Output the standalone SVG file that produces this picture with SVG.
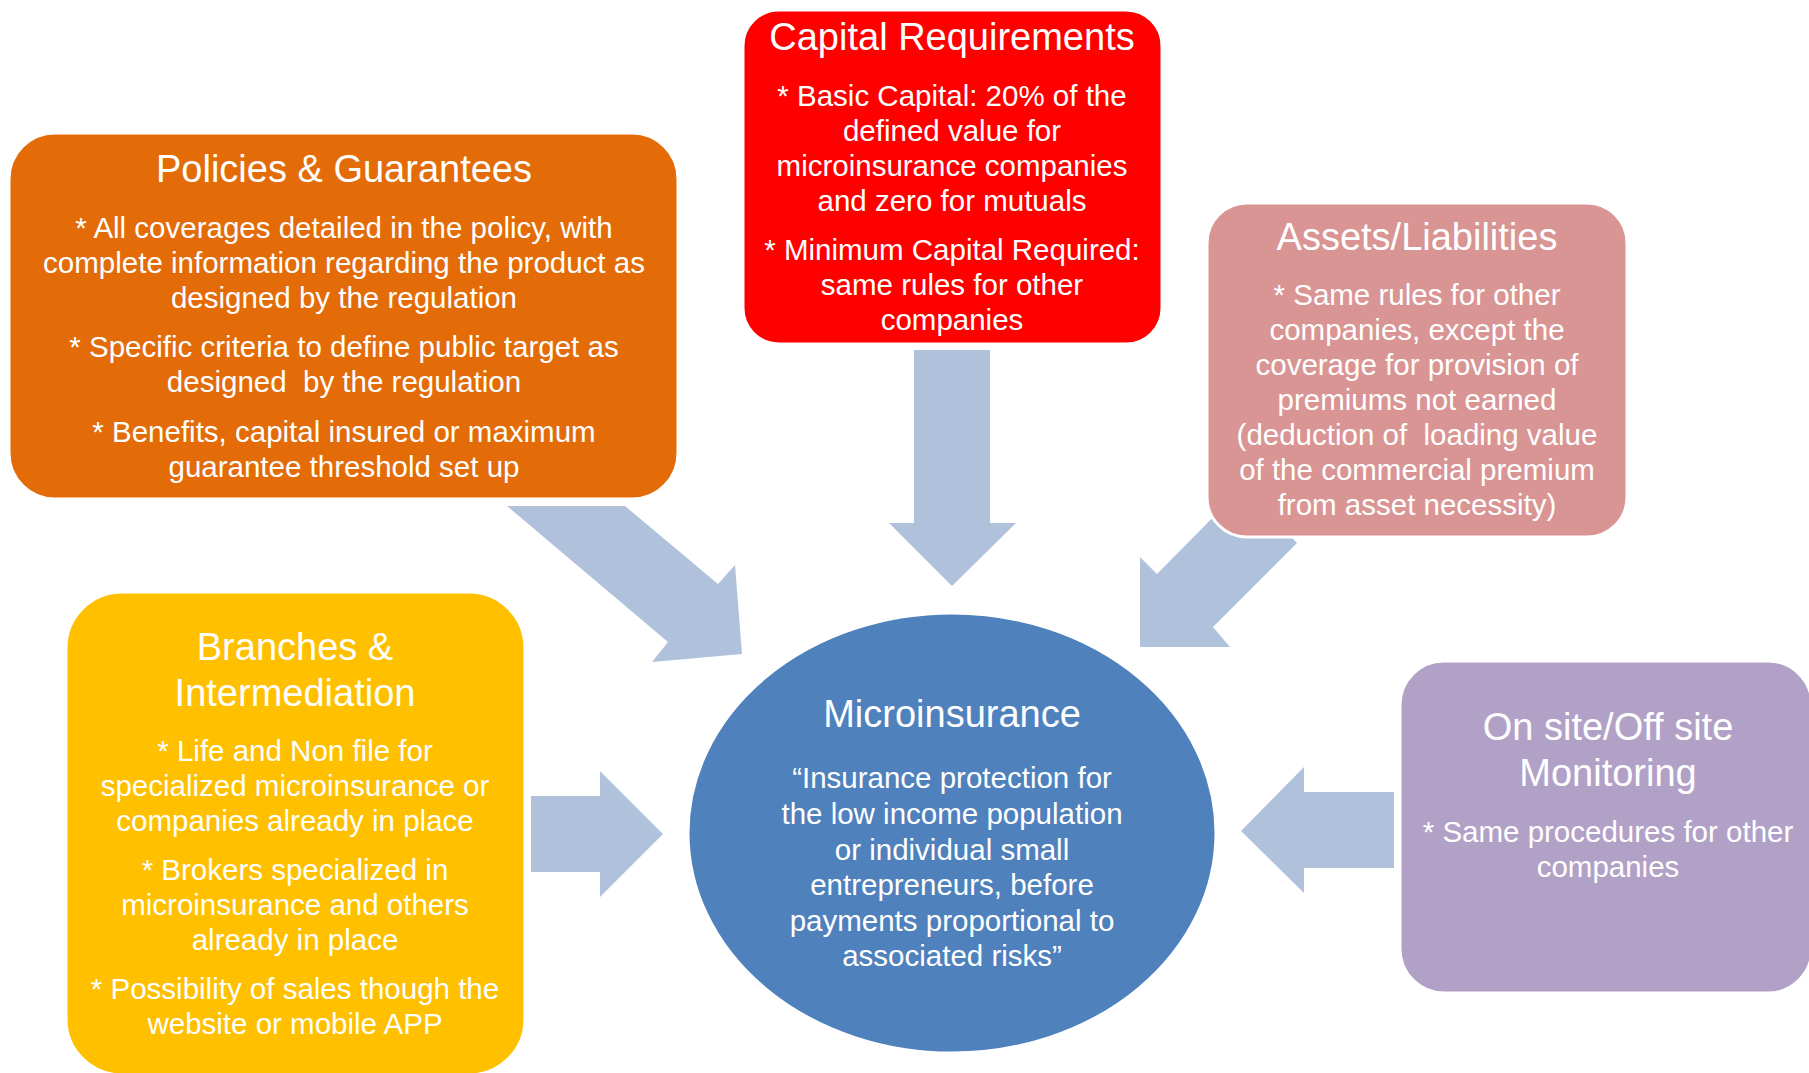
<svg xmlns="http://www.w3.org/2000/svg" width="1809" height="1073" viewBox="0 0 1809 1073">
  <style>
    text { font-family: "Liberation Sans", Arial, sans-serif; fill: #ffffff; text-anchor: middle; white-space: pre; }
    .title { font-size: 38px; }
    .body { font-size: 29.5px; }
    .arrow { fill: #B0C1DC; }
    .box { stroke: #ffffff; stroke-width: 3; }
  </style>
  <rect width="1809" height="1073" fill="#ffffff"/>

  <!-- block arrows pointing into the central ellipse -->
  <g id="connectors">
    <polygon class="arrow" points="507,506 625,506 718,584 735,565 742,654 652,662 668,642"/>
    <polygon class="arrow" points="914,350 990,350 990,523 1016,523 952,586 889,523 914,523"/>
    <polygon class="arrow" points="1242,488 1297,543 1213,627 1230,647 1140,647 1140,557 1157,574"/>
    <polygon class="arrow" points="531,796 600,796 600,771 663,834 600,897 600,872 531,872"/>
    <polygon class="arrow" points="1394,792 1304,792 1304,767 1241,831 1304,893 1304,868 1394,868"/>
  </g>

  <g id="policies">
    <rect class="box" x="9" y="133" width="669" height="366" rx="46" fill="#E36C09"/>
    <text class="title" x="344" y="182">Policies &amp; Guarantees</text>
    <text class="body" x="344" y="238">* All coverages detailed in the policy, with</text>
    <text class="body" x="344" y="273">complete information regarding the product as</text>
    <text class="body" x="344" y="308">designed by the regulation</text>
    <text class="body" x="344" y="357">* Specific criteria to define public target as</text>
    <text class="body" x="344" y="392">designed  by the regulation</text>
    <text class="body" x="344" y="442">* Benefits, capital insured or maximum</text>
    <text class="body" x="344" y="477">guarantee threshold set up</text>
  </g>

  <g id="capital">
    <rect class="box" x="743" y="10" width="419" height="334" rx="36" fill="#FF0000"/>
    <text class="title" x="952" y="50">Capital Requirements</text>
    <text class="body" x="952" y="106">* Basic Capital: 20% of the</text>
    <text class="body" x="952" y="141">defined value for</text>
    <text class="body" x="952" y="176">microinsurance companies</text>
    <text class="body" x="952" y="211">and zero for mutuals</text>
    <text class="body" x="952" y="260">* Minimum Capital Required:</text>
    <text class="body" x="952" y="295">same rules for other</text>
    <text class="body" x="952" y="330">companies</text>
  </g>

  <g id="assets">
    <rect class="box" x="1207" y="203" width="420" height="334" rx="40" fill="#D99594"/>
    <text class="title" x="1417" y="250">Assets/Liabilities</text>
    <text class="body" x="1417" y="305">* Same rules for other</text>
    <text class="body" x="1417" y="340">companies, except the</text>
    <text class="body" x="1417" y="375">coverage for provision of</text>
    <text class="body" x="1417" y="410">premiums not earned</text>
    <text class="body" x="1417" y="445">(deduction of  loading value</text>
    <text class="body" x="1417" y="480">of the commercial premium</text>
    <text class="body" x="1417" y="515">from asset necessity)</text>
  </g>

  <g id="branches">
    <rect class="box" x="66" y="592" width="459" height="483" rx="56" fill="#FFC000"/>
    <text class="title" x="295" y="660">Branches &amp;</text>
    <text class="title" x="295" y="706">Intermediation</text>
    <text class="body" x="295" y="761">* Life and Non file for</text>
    <text class="body" x="295" y="796">specialized microinsurance or</text>
    <text class="body" x="295" y="831">companies already in place</text>
    <text class="body" x="295" y="880">* Brokers specialized in</text>
    <text class="body" x="295" y="915">microinsurance and others</text>
    <text class="body" x="295" y="950">already in place</text>
    <text class="body" x="295" y="999">* Possibility of sales though the</text>
    <text class="body" x="295" y="1034">website or mobile APP</text>
  </g>

  <g id="monitoring">
    <rect class="box" x="1400" y="661" width="412" height="332" rx="44" fill="#B2A1C7"/>
    <text class="title" x="1608" y="740">On site/Off site</text>
    <text class="title" x="1608" y="786">Monitoring</text>
    <text class="body" x="1608" y="842">* Same procedures for other</text>
    <text class="body" x="1608" y="877">companies</text>
  </g>

  <g id="microinsurance">
    <ellipse class="box" cx="952" cy="833" rx="264" ry="220" fill="#4F81BD"/>
    <text class="title" x="952" y="727">Microinsurance</text>
    <text class="body" x="952" y="788">“Insurance protection for</text>
    <text class="body" x="952" y="824">the low income population</text>
    <text class="body" x="952" y="860">or individual small</text>
    <text class="body" x="952" y="895">entrepreneurs, before</text>
    <text class="body" x="952" y="931">payments proportional to</text>
    <text class="body" x="952" y="966">associated risks”</text>
  </g>
</svg>
